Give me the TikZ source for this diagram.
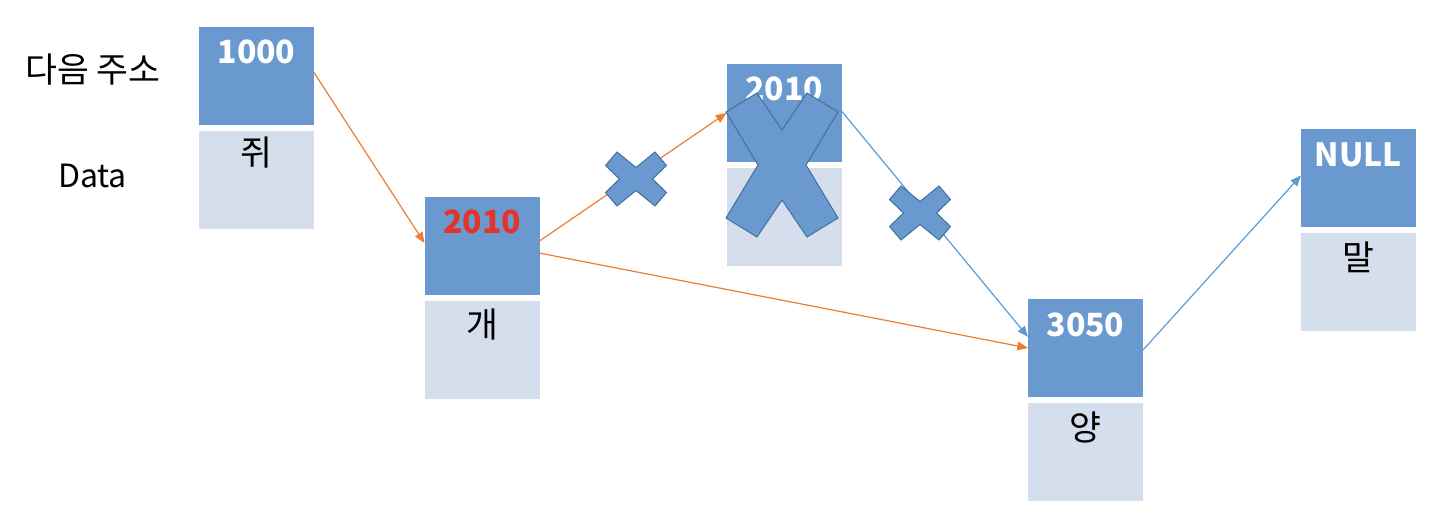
\documentclass[tikz,border=0pt]{standalone}
\usepackage{fontspec}
\newfontfamily\krfont{Noto Sans CJK KR}
\usetikzlibrary{arrows.meta}

\definecolor{boxblue}{RGB}{106,153,207}
\definecolor{boxlight}{RGB}{213,222,236}
\definecolor{xline}{RGB}{65,113,156}
\definecolor{arrorange}{RGB}{237,125,49}
\definecolor{arrblue}{RGB}{91,155,213}
\definecolor{numred}{RGB}{226,52,40}

\tikzset{every picture/.style={line width=0.75pt}}

\begin{document}
\begin{tikzpicture}[x=0.75pt,y=0.75pt,yscale=-1,xscale=1,
	addrbox/.style={rectangle, fill=boxblue, minimum width=86.25pt, minimum height=73.5pt, inner sep=0pt, outer sep=0pt},
	databox/.style={addrbox, fill=boxlight},
	numtext/.style={inner sep=0.75pt, font=\krfont\bfseries\fontsize{24}{28}\selectfont, text=white},
	krtext/.style={inner sep=0.75pt, font=\krfont\fontsize{26}{30}\selectfont},
	latintext/.style={inner sep=0.75pt, font=\krfont\fontsize{24}{28}\selectfont},
	linkorange/.style={draw=arrorange, line width=0.9pt, -{Triangle[length=8pt,width=6.5pt]}},
	linkblue/.style={draw=arrblue, line width=0.9pt, -{Triangle[length=8pt,width=6.5pt]}},
	crossmark/.style={fill=boxblue, draw=xline, line width=0.75pt, line join=miter}]
	\useasboundingbox (0,0) rectangle (1432,508);
	
	% row labels
	\node[krtext] (lbladdr) at (93,70) {다음 주소};
	\node[latintext] (lbldata) at (92.5,176) {Data};
	
	% list nodes
	\node[addrbox] (a1) at (256.5,75.5) {};
	\node[databox] (d1) at (256.5,180) {};
	\node[addrbox] (a2) at (482,246) {};
	\node[databox] (d2) at (482,350) {};
	\node[addrbox] (a3) at (784,113) {};
	\node[databox] (d3) at (784,217) {};
	\node[addrbox] (a4) at (1085.5,348) {};
	\node[databox] (d4) at (1085.5,452) {};
	\node[addrbox] (a5) at (1358.5,177.5) {};
	\node[databox] (d5) at (1358.5,282) {};
	
	\node[numtext] (t1) at (256.5,52) {1000};
	\node[numtext, text=numred] (t2) at (482,222) {2010};
	\node[numtext] (t3) at (784,89) {2010};
	\node[numtext] (t4) at (1085.5,325) {3050};
	\node[numtext] (t5) at (1358.5,155) {NULL};
	
	\node[krtext] (v1) at (256.5,153) {쥐};
	\node[krtext] (v2) at (482,325) {개};
	\node[krtext] (v4) at (1085.5,427) {양};
	\node[krtext] (v5) at (1358.5,257) {말};
	
	% links
	\draw[linkorange] (a1.3.5) -- (a2.177);
	\draw[linkorange] (a2.5) -- (a3.west);
	\draw[linkorange] (a2.353) -- (a4.west);
	\draw[linkblue] (a3.2) -- (a4.169);
	\draw[linkblue] (a4.358) -- (a5.178);
	
	% removed node
	\draw[crossmark, shift={(782,165)}] (-56,-53) -- (-25,-72) -- (0,-35) -- (25,-72) -- (56,-53) -- (24,0) -- (56,53) -- (25,72) -- (0,35) -- (-25,72) -- (-56,53) -- (-24,0) -- cycle;
	% cut links
	\foreach \cx/\cy in {636/179, 920/213}
		\draw[crossmark, shift={(\cx,\cy)}] (-30.5,-13.5) -- (-19,-27) -- (0,-11.5) -- (19,-27) -- (30.5,-13.5) -- (16.5,0) -- (30.5,13.5) -- (19,27) -- (0,11.5) -- (-19,27) -- (-30.5,13.5) -- (-16.5,0) -- cycle;
	
\end{tikzpicture}
\end{document}
